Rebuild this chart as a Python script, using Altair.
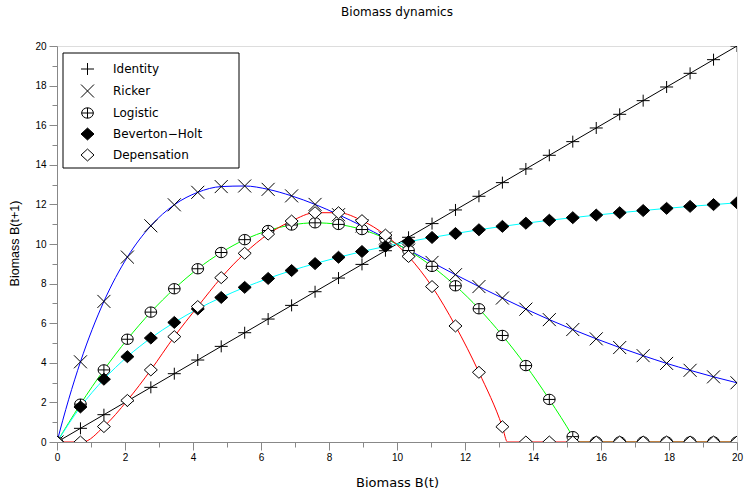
import altair as alt
import pandas as pd

# ---------------- data ----------------
x_vals = [0, 0.69, 1.38, 2.07, 2.76, 3.45, 4.14, 4.83, 5.52, 6.21, 6.90, 7.59, 8.28,
          8.97, 9.66, 10.34, 11.03, 11.72, 12.41, 13.10, 13.79, 14.48, 15.17, 15.86,
          16.55, 17.24, 17.93, 18.62, 19.31, 20]
identity_vals = [0, 0.69, 1.38, 2.07, 2.76, 3.45, 4.14, 4.83, 5.52, 6.21, 6.90, 7.59, 8.28,
                 8.97, 9.66, 10.34, 11.03, 11.72, 12.41, 13.10, 13.79, 14.48, 15.17, 15.86,
                 16.55, 17.24, 17.93, 18.62, 19.31, 20]
ricker_vals = [0, 4.05, 7.10, 9.34, 10.92, 11.98, 12.61, 12.90, 12.93, 12.76, 12.43, 12.00,
               11.48, 10.91, 10.30, 9.69, 9.07, 8.45, 7.85, 7.27, 6.71, 6.18, 5.68, 5.21,
               4.77, 4.36, 3.97, 3.62, 3.29, 2.99]
logistic_vals = [0, 1.91, 3.64, 5.19, 6.56, 7.74, 8.75, 9.57, 10.22, 10.68, 10.96, 11.07,
                 10.99, 10.73, 10.28, 9.67, 8.87, 7.89, 6.73, 5.38, 3.86, 2.15, 0.27, 0,
                 0, 0, 0, 0, 0, 0]
beverton_vals = [0, 1.77, 3.17, 4.31, 5.25, 6.04, 6.72, 7.30, 7.81, 8.26, 8.66, 9.01, 9.33,
                 9.62, 9.88, 10.12, 10.33, 10.53, 10.72, 10.89, 11.05, 11.20, 11.33, 11.46,
                 11.58, 11.69, 11.80, 11.90, 11.99, 12.08]
depensation_vals = [0, 0, 0.78, 2.10, 3.64, 5.32, 6.84, 8.30, 9.53, 10.50, 11.16, 11.58,
                    11.58, 11.18, 10.45, 9.37, 7.85, 5.86, 3.52, 0.77, 0, 0, 0, 0,
                    0, 0, 0, 0, 0, 0]

# extra points (bends between markers)
ricker_extra_x = [0.17, 0.345]
ricker_extra_y = [1.10, 2.16]
logistic_extra_x = [15.26]
logistic_extra_y = [0]
depensation_extra_x = [0.75, 13.25]
depensation_extra_y = [0, 0]

series_names = ["Identity", "Ricker", "Logistic", "Beverton\u2212Holt", "Depensation"]

# ---------------- styles ----------------
line_colors = ["#000000", "#0000ff", "#00ff00", "#00ffff", "#ff0000"]
marker_fills = ["#ffffff", "#ffffff", "#ffffff", "#000000", "#ffffff"]
marker_strokes = ["#000000"] * 5
marker_shapes = [
    "M-1,0L1,0M0,-0.92L0,0.92",
    "M-1,-1L1,1M-1,1L1,-1",
    "M-0.9,0A0.9,0.8,0,1,1,0.9,0A0.9,0.8,0,1,1,-0.9,0ZM-0.9,0L0.9,0M0,-0.8L0,0.8",
    "M-1,0L0,-0.92L1,0L0,0.92Z",
    "M-1,0L0,-0.92L1,0L0,0.92Z",
]

series_y = [identity_vals, ricker_vals, logistic_vals, beverton_vals, depensation_vals]
extras = {
    "Ricker": (ricker_extra_x, ricker_extra_y),
    "Logistic": (logistic_extra_x, logistic_extra_y),
    "Depensation": (depensation_extra_x, depensation_extra_y),
}

marker_rows = []
for name, ys in zip(series_names, series_y):
    for xv, yv in zip(x_vals, ys):
        marker_rows.append({"series": name, "x": xv, "y": yv})
line_rows = list(marker_rows)
for name, (ex, ey) in extras.items():
    for xv, yv in zip(ex, ey):
        line_rows.append({"series": name, "x": xv, "y": yv})

markers = pd.DataFrame(marker_rows)
line_df = pd.DataFrame(line_rows)

FONT = "DejaVu Sans"
even = "datum.value % 2 == 0"

x_axis = alt.Axis(
    values=list(range(0, 21)),
    labelExpr=f"{even} ? datum.label : ''",
    tickSize={"condition": {"test": even, "value": 8}, "value": 5},
    grid=False, labelFlush=False, labelOverlap=False, labelPadding=2,
    title="Biomass B(t)", titleFont=FONT, titleFontSize=13, titleFontWeight="normal",
    titleBaseline="alphabetic", titleY=44,
)
y_axis = alt.Axis(
    values=list(range(0, 21)),
    labelExpr=f"{even} ? datum.label : ''",
    tickSize={"condition": {"test": even, "value": 8}, "value": 5},
    grid=False, labelFlush=False, labelOverlap=False, labelPadding=3,
    title="Biomass B(t+1)", titleFont="Liberation Sans", titleFontSize=12.5,
    titleFontWeight="normal", titleX=-36, titleY=197,
)

X = alt.X("x:Q", scale=alt.Scale(domain=[0, 20], nice=False, zero=False), axis=x_axis)
Y = alt.Y("y:Q", scale=alt.Scale(domain=[0, 20], nice=False, zero=False), axis=y_axis)

legend = alt.Legend(
    title=None, orient="none", legendX=6, legendY=7,
    padding=9, rowPadding=5,
    symbolOffset=8.5, labelOffset=18.5, labelFont=FONT, labelFontSize=12,
    labelColor="black", symbolSize=169, symbolStrokeWidth=1,
)

lines = alt.Chart(line_df).mark_line(
    clip=True, strokeWidth=1, interpolate="monotone"
).encode(
    x=X, y=Y,
    color=alt.Color("series:N", scale=alt.Scale(domain=series_names, range=line_colors),
                    legend=None),
)

points = alt.Chart(markers).mark_point(
    clip=True, strokeWidth=1, size=169, opacity=1
).encode(
    x=X, y=Y,
    shape=alt.Shape("series:N", scale=alt.Scale(domain=series_names, range=marker_shapes),
                    legend=legend),
    fill=alt.Fill("series:N", scale=alt.Scale(domain=series_names, range=marker_fills),
                  legend=legend),
    stroke=alt.Stroke("series:N", scale=alt.Scale(domain=series_names, range=marker_strokes),
                      legend=legend),
)

# legend frame (white box with black border behind the legend entries)
legend_box = alt.Chart(pd.DataFrame({"box": [0]})).mark_rect(
    fill="white", stroke="black", strokeWidth=1
).encode(
    x=alt.value(6), x2=alt.value(182), y=alt.value(7), y2=alt.value(122)
)

chart = alt.layer(lines, points, legend_box).resolve_scale(color="independent").properties(
    width=680, height=396,
    title=alt.TitleParams("Biomass dynamics", font=FONT, fontSize=12, fontWeight="normal",
                          color="black", anchor="middle", offset=22),
    autosize=alt.AutoSizeParams(type="none"),
    padding={"left": 57, "top": 46, "right": 10, "bottom": 47},
).configure_view(
    stroke="black", strokeWidth=1
).configure_axis(
    domainColor="black", domainWidth=2, tickColor="black", tickWidth=1,
    labelFont=FONT, labelFontSize=12, labelColor="black", titleColor="black",
).configure(background="white")

chart.save("out.html", embed_options={"renderer": "svg", "actions": False})
